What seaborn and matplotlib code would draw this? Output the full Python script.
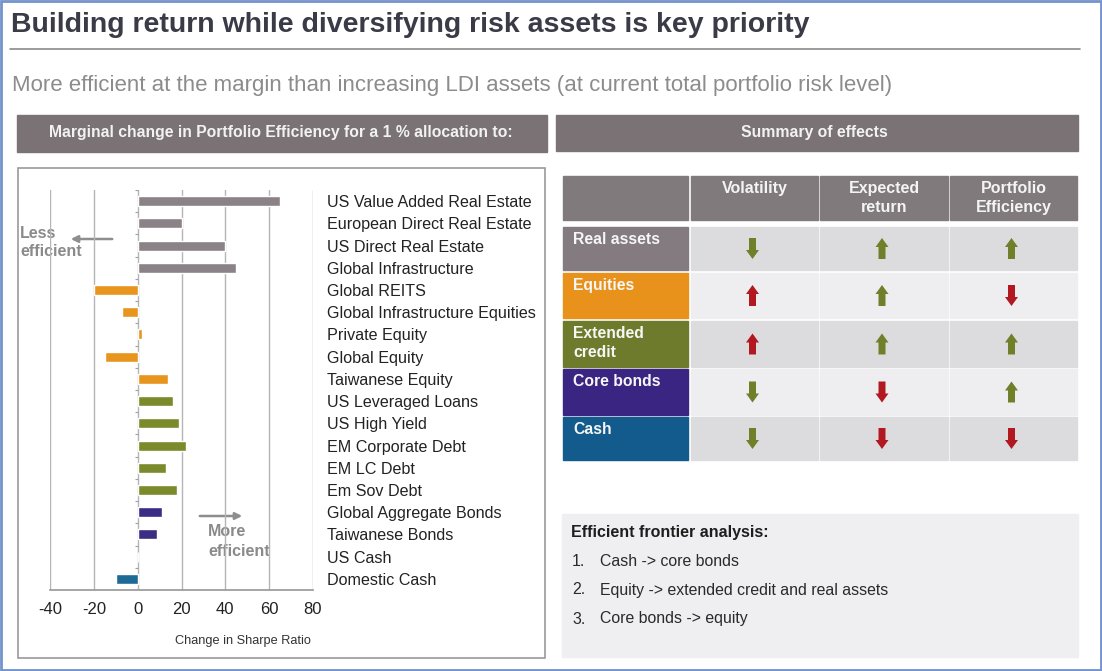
import numpy as np
import pandas as pd
import matplotlib
matplotlib.use("Agg")
import matplotlib.pyplot as plt
from matplotlib.patches import Rectangle, FancyArrow
import seaborn as sns

# ---------------- data ----------------
assets = [
    "US Value Added Real Estate", "European Direct Real Estate", "US Direct Real Estate",
    "Global Infrastructure", "Global REITS", "Global Infrastructure Equities",
    "Private Equity", "Global Equity", "Taiwanese Equity", "US Leveraged Loans",
    "US High Yield", "EM Corporate Debt", "EM LC Debt", "Em Sov Debt",
    "Global Aggregate Bonds", "Taiwanese Bonds", "US Cash", "Domestic Cash",
]
sharpe_change = [65, 20, 40, 45, -20, -7, 2, -15, 14, 16, 19, 22, 13, 18, 11, 9, 0, -10]
asset_class = (["Real assets"] * 4 + ["Equities"] * 5 + ["Extended credit"] * 5
               + ["Core bonds"] * 2 + ["Cash"] * 2)

x_ticks = [-40, -20, 0, 20, 40, 60, 80]

summary_rows = ["Real assets", "Equities", "Extended\ncredit", "Core bonds", "Cash"]
summary_cols = ["Volatility", "Expected\nreturn", "Portfolio\nEfficiency"]
volatility = ["down", "up", "up", "down", "down"]
expected_return = ["up", "up", "up", "down", "down"]
efficiency = ["up", "down", "up", "up", "down"]

frontier_steps = ["Cash -> core bonds",
                  "Equity -> extended credit and real assets",
                  "Core bonds -> equity"]

# ---------------- styling ----------------
bar_colors = {"Real assets": "#8b8287", "Equities": "#e8951f",
              "Extended credit": "#7b8a2a", "Core bonds": "#3b2c84",
              "Cash": "#1e6a96"}
cell_colors = ["#837b7f", "#e8921c", "#6f7b2c", "#3a2682", "#125b8c"]
GOOD, BAD = "#6f7f2a", "#b2181f"
HEADER = "#7b7276"

sns.set_theme(style="white")
plt.rcParams["font.family"] = ["Liberation Sans", "DejaVu Sans"]
plt.rcParams["axes.unicode_minus"] = False

W, H = 1102, 671
fig = plt.figure(figsize=(W / 100, H / 100), dpi=100)
fig.patch.set_facecolor("white")

# pixel-space canvas for slide furniture
bg = fig.add_axes([0, 0, 1, 1])
bg.set_xlim(0, W)
bg.set_ylim(H, 0)
bg.axis("off")

bg.add_patch(Rectangle((1, 1), W - 2, H - 2, fill=False, ec="#7393cc", lw=2))
bg.text(11, 25, "Building return while diversifying risk assets is key priority",
        fontsize=20.5, fontweight="bold", color="#3b3b47", va="center", ha="left")
bg.plot([10, 1080], [49, 49], color="#8a8a8a", lw=1.2)
bg.text(12, 85, "More efficient at the margin than increasing LDI assets "
        "(at current total portfolio risk level)",
        fontsize=16, color="#8c8c8c", va="center", ha="left")

# section headers
bg.add_patch(Rectangle((17, 115), 530, 37, color=HEADER))
bg.text(281, 133, "Marginal change in Portfolio Efficiency for a 1 % allocation to:",
        fontsize=11.3, fontweight="bold", color="#f2f2f2", ha="center", va="center")
bg.add_patch(Rectangle((556, 115), 522, 36, color=HEADER))
bg.text(814, 133, "Summary of effects", fontsize=11.3, fontweight="bold",
        color="#f2f2f2", ha="center", va="center")

# chart panel frame
bg.add_patch(Rectangle((18, 168), 527, 490, fill=False, ec="#9a9a9a", lw=1.2))

# efficiency direction hints
bg.annotate("", xy=(68, 239), xytext=(115, 239),
            arrowprops=dict(arrowstyle="-|>", color="#8e8e8e", lw=1.8,
                            mutation_scale=10))
bg.text(20, 233, "Less", fontsize=11.5, fontweight="bold", color="#8a8a8a", va="center")
bg.text(20, 252, "efficient", fontsize=11.5, fontweight="bold", color="#8a8a8a", va="center")
bg.annotate("", xy=(245, 516), xytext=(197, 516),
            arrowprops=dict(arrowstyle="-|>", color="#8e8e8e", lw=1.8,
                            mutation_scale=10))
bg.text(208, 532, "More", fontsize=11.5, fontweight="bold", color="#8a8a8a", va="center")
bg.text(208, 551, "efficient", fontsize=11.5, fontweight="bold", color="#8a8a8a", va="center")
bg.text(243, 641, "Change in Sharpe Ratio", fontsize=9.2, color="#333333",
        ha="center", va="center")

# ---------------- bar chart ----------------
df = pd.DataFrame({"asset": assets, "change": sharpe_change, "group": asset_class})
ax = fig.add_axes([50 / W, 1 - 590 / H, 263 / W, 400 / H])
ax.set_facecolor("none")
sns.barplot(data=df, x="change", y="asset", hue="group", order=assets,
            palette=bar_colors, dodge=False, width=0.45, saturation=1,
            legend=False, ax=ax)
ax.set_xlim(x_ticks[0], x_ticks[-1])
ax.set_ylim(len(assets) - 0.5, -0.5)
ax.set_xticks(x_ticks)
ax.set_xticklabels([str(t) for t in x_ticks])
ax.grid(axis="x", color="#b5b5b5", lw=1)
ax.grid(axis="y", visible=False)
ax.set_axisbelow(True)
for side in ("top", "left", "right"):
    ax.spines[side].set_visible(False)
ax.spines["bottom"].set_color("#9a9a9a")
ax.tick_params(axis="x", direction="in", length=4, color="#9a9a9a",
               labelsize=12, labelcolor="#222222", pad=9)
ax.yaxis.tick_right()
ax.tick_params(axis="y", length=0, pad=10, labelsize=11.6, labelcolor="#222222")
ax.set_xlabel("")
ax.set_ylabel("")
# small category ticks on the zero line
ax.hlines(np.arange(len(assets) + 1) - 0.5, -1.3, 0, color="#a0a0a0", lw=0.8)

# ---------------- summary table ----------------
col_edges = [(563, 688), (691, 818), (820, 948), (950, 1077)]
row_edges = [(227, 270), (273, 318), (321, 367), (369, 415), (417, 460)]
head_top, head_bot = 176, 220

for (x0, x1) in col_edges:
    bg.add_patch(Rectangle((x0, head_top), x1 - x0, head_bot - head_top, color="#807a7d"))
for (x0, x1), label in zip(col_edges[1:], summary_cols):
    bg.text((x0 + x1) / 2, head_top + 5, label, fontsize=11.5, fontweight="bold",
            color="#f4f4f4", ha="center", va="top", linespacing=1.3)

directions = [volatility, expected_return, efficiency]
for r, ((y0, y1), label) in enumerate(zip(row_edges, summary_rows)):
    x0, x1 = col_edges[0]
    bg.add_patch(Rectangle((x0, y0), x1 - x0, y1 - y0, color=cell_colors[r]))
    bg.text(x0 + 10, y0 + 5, label, fontsize=11.3, fontweight="bold",
            color="#f6f6f6", ha="left", va="top", linespacing=1.3)
    fill = "#dcdcde" if r % 2 == 0 else "#eeeef0"
    for c, (cx0, cx1) in enumerate(col_edges[1:]):
        bg.add_patch(Rectangle((cx0, y0), cx1 - cx0, y1 - y0, color=fill))
        d = directions[c][r]
        good = (d == "down") if c == 0 else (d == "up")
        xc = (cx0 + cx1) / 2 - 2
        yc = (y0 + y1) / 2
        length = 21
        start = yc + length / 2 if d == "up" else yc - length / 2
        dy = -length if d == "up" else length
        bg.add_patch(FancyArrow(xc, start, 0, dy, width=7, head_width=13,
                                head_length=9, length_includes_head=True,
                                color=GOOD if good else BAD, lw=0))

# ---------------- efficient frontier box ----------------
bg.add_patch(Rectangle((562, 514), 516, 143, color="#efeff1"))
bg.text(571, 532, "Efficient frontier analysis:", fontsize=11.5, fontweight="bold",
        color="#1e1e1e", va="center")
for i, step in enumerate(frontier_steps):
    y = 561 + 29 * i
    bg.text(572, y, f"{i + 1}.", fontsize=11.4, color="#2a2a2a", va="center")
    bg.text(600, y, step, fontsize=11.4, color="#2a2a2a", va="center")

fig.savefig("out.png", dpi=100, facecolor="white")
